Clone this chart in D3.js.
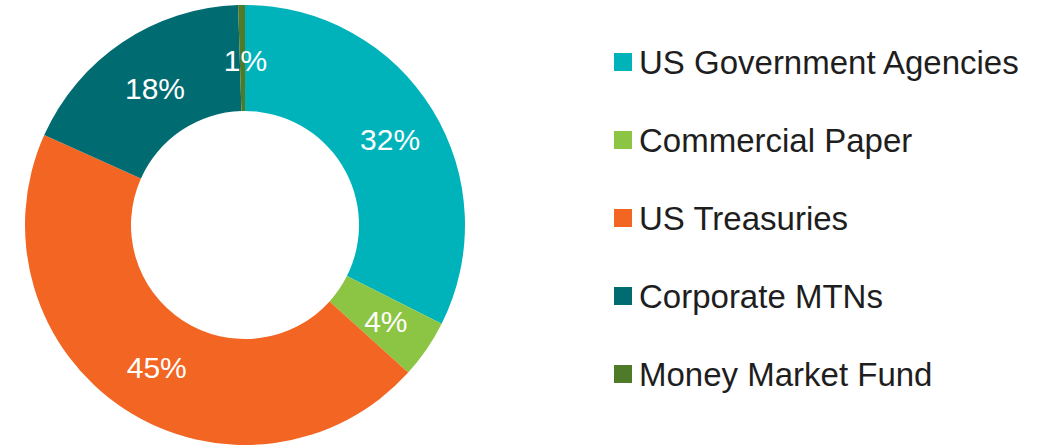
<!DOCTYPE html>
<html>
<head>
<meta charset="utf-8">
<script src="https://cdn.jsdelivr.net/npm/d3@7"></script>
<style>
  body { margin: 0; background: #fff; }
  svg { display: block; font-family: "Liberation Sans", Arial, Helvetica, sans-serif; }
</style>
</head>
<body>
<svg id="chart"></svg>
<script>
var width = 1051,
    height = 447;

var categories = ['US Government Agencies', 'Commercial Paper', 'US Treasuries', 'Corporate MTNs', 'Money Market Fund'];
var values = [32.4, 4.3, 45.0, 17.8, 0.5];
var colors = ['#00b3bb', '#8cc443', '#f26522', '#006b70', '#4f7a28'];

var CENTER = { X: 245, Y: 225 };
var OUTER = 220,
    INNER = 114;

var svg = d3.select('#chart')
    .attr('width', width)
    .attr('height', height);

var color = d3.scaleOrdinal()
    .domain(categories)
    .range(colors);

var pie = d3.pie()
    .sort(null)
    .value(function (d) { return d.value; });

var arc = d3.arc()
    .innerRadius(INNER)
    .outerRadius(OUTER);

var data = categories.map(function (c, i) {
    return { name: c, value: values[i] };
});

var donut = svg.append('g')
    .attr('transform', 'translate(' + CENTER.X + ',' + CENTER.Y + ')');

var arcs = pie(data);

donut.selectAll('path.slice')
    .data(arcs)
    .enter()
    .append('path')
    .attr('class', 'slice')
    .attr('d', arc)
    .attr('fill', function (d) { return color(d.data.name); });

donut.selectAll('text.pct')
    .data(arcs)
    .enter()
    .append('text')
    .attr('class', 'pct')
    .attr('transform', function (d) {
        var c = arc.centroid(d);
        return 'translate(' + (c[0] + 3) + ',' + (c[1] + 2) + ')';
    })
    .attr('dy', '0.36em')
    .style('text-anchor', 'middle')
    .style('font-size', '30px')
    .attr('fill', '#fff')
    .text(function (d) { return Math.round(d.data.value) + '%'; });

// legend
var legendY = d3.scalePoint()
    .domain(categories)
    .range([62, 374]);

var legend = svg.append('g')
    .attr('class', 'legend')
    .selectAll('g')
    .data(categories)
    .enter()
    .append('g')
    .attr('transform', function (d) { return 'translate(614,' + legendY(d) + ')'; });

legend.append('rect')
    .attr('x', 0)
    .attr('y', -9)
    .attr('width', 18)
    .attr('height', 18)
    .attr('fill', function (d) { return color(d); });

legend.append('text')
    .attr('x', 25)
    .attr('dy', '0.36em')
    .style('font-size', '33px')
    .attr('fill', '#1e1e1e')
    .text(function (d) { return d; });
</script>
</body>
</html>
